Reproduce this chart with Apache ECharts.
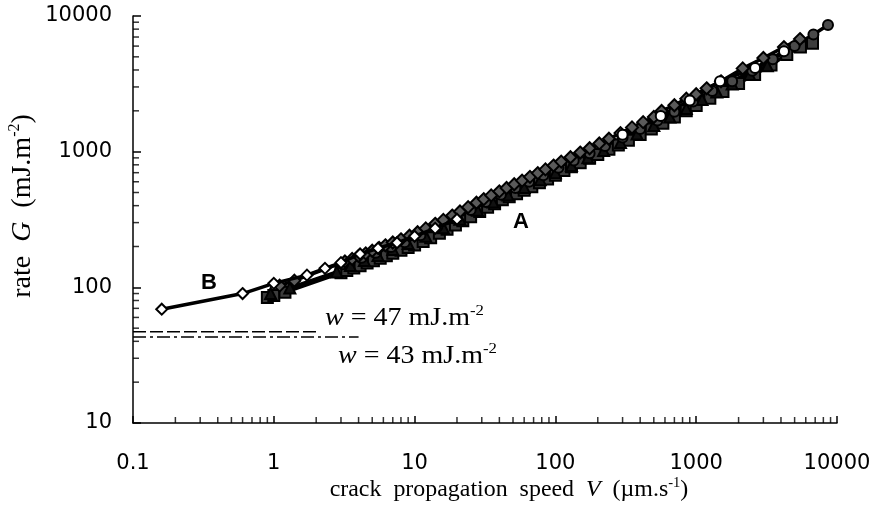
<!DOCTYPE html>
<html>
<head>
<meta charset="utf-8">
<script src="https://cdn.jsdelivr.net/npm/echarts@6/dist/echarts.min.js"></script>
<style>
  html, body { margin: 0; padding: 0; background: #fff; }
  #chart { width: 879px; height: 525px; }
</style>
</head>
<body>
<div id="chart"></div>
<script>
// Tick labels of the two logarithmic axes
const xTickLabels = ['0.1', '1', '10', '100', '1000', '10000'];
const yTickLabels = ['10', '100', '1000', '10000'];

// Intermediate decade ticks (2..9 x 10^n)
const xMinorTicks = [0.2, 0.3, 0.4, 0.5, 0.6, 0.7, 0.8, 0.9,
  2, 3, 4, 5, 6, 7, 8, 9,
  20, 30, 40, 50, 60, 70, 80, 90,
  200, 300, 400, 500, 600, 700, 800, 900,
  2000, 3000, 4000, 5000, 6000, 7000, 8000, 9000];
const yMinorTicks = [20, 30, 40, 50, 60, 70, 80, 90,
  200, 300, 400, 500, 600, 700, 800, 900,
  2000, 3000, 4000, 5000, 6000, 7000, 8000, 9000];

// Curve B: [V (um/s), G (mJ/m2)]
const curveB = [[0.16, 69], [0.6, 90], [1.0, 107], [1.72, 123], [2.31, 138],
  [3.0, 152], [4.1, 176], [5.5, 194], [7.5, 213], [10, 238], [14, 272], [20, 318]];

// Curve A runs, [V, G]
const runSquares = [[0.9, 84], [1.0, 87], [1.2, 92], [3.0, 128], [3.3, 133], [3.7, 139], [4.1, 144],
  [4.6, 151], [5.1, 157], [5.7, 164], [6.3, 171], [7.0, 178], [8.0, 188], [9.0, 197], [10, 205],
  [11.5, 218], [13, 232], [15, 250], [17, 268], [19.5, 288], [22, 310], [25, 332], [29, 362],
  [33, 390], [37, 414], [42, 442], [47, 465], [53, 490], [60, 520], [68, 552], [77, 590],
  [88, 630], [100, 670], [115, 725], [130, 775], [150, 830], [175, 895], [200, 955], [240, 1040],
  [280, 1120], [330, 1215], [400, 1340], [480, 1470], [580, 1620], [700, 1800], [850, 2000],
  [1000, 2190], [1250, 2480], [1550, 2780], [2000, 3180], [2600, 3700], [3400, 4350],
  [4400, 5200], [5500, 5900], [6700, 6310]];
const runDiamonds = [[1.1, 103], [1.4, 112], [3.2, 155], [3.6, 162], [4.0, 170], [4.5, 178],
  [5.0, 186], [5.6, 195], [6.2, 204], [7.0, 214], [8.0, 226], [9.2, 240], [10.5, 255], [12, 272],
  [14, 294], [16, 314], [18.5, 338], [21, 362], [24, 390], [27.5, 420], [31, 447], [35, 476],
  [40, 510], [45, 540], [51, 575], [58, 612], [66, 652], [75, 695], [85, 740], [97, 790],
  [110, 845], [128, 910], [150, 985], [175, 1060], [205, 1150], [240, 1245], [290, 1370],
  [350, 1510], [420, 1650], [500, 1800], [568, 1995], [700, 2200], [851, 2460], [1000, 2650],
  [1186, 2930], [1500, 3300], [2140, 4110], [3000, 4900], [4200, 5900], [5460, 6760]];
const runTriangles = [[0.95, 90], [1.3, 99], [2.8, 130], [3.5, 145], [4.4, 158], [5.5, 172],
  [7, 190], [9, 210], [12, 238], [16, 275], [21, 318], [28, 370], [36, 425], [46, 480], [60, 545],
  [78, 620], [100, 700], [130, 790], [170, 900], [220, 1020], [290, 1170], [380, 1350],
  [500, 1560], [650, 1800], [850, 2080], [1100, 2420], [1400, 2750], [1800, 3150],
  [2400, 3700], [3200, 4300]];
const runDots = [[3.1, 148], [4.2, 165], [5.3, 180], [6.8, 198], [8.5, 215], [11, 242],
  [14.5, 280], [19, 322], [25, 372], [32, 425], [41, 482], [52, 540], [65, 600], [82, 670],
  [105, 760], [135, 860], [175, 975], [225, 1100], [300, 1270], [400, 1470], [530, 1700],
  [700, 1970], [950, 2340], [1300, 2800], [1800, 3300], [2500, 3950], [3500, 4800],
  [5000, 6000], [6800, 7300], [8630, 8570]];
const runCircles = [[300, 1330], [560, 1830], [900, 2380], [1476, 3310], [2620, 4130],
  [4200, 5500]];

// Work of adhesion levels
const levelW47 = [[0.1, 47], [2.0, 47]];
const levelW43 = [[0.1, 43], [4.0, 43]];

const serif = 'Liberation Serif';
const sans = 'Liberation Sans';

function run(data, symbol, size, fill, z) {
  return {
    type: 'line', data: data, symbol: symbol, symbolSize: size, z: z,
    lineStyle: { color: '#000', width: 3.5 },
    itemStyle: { color: fill, borderColor: '#000', borderWidth: 2 }
  };
}

// Short tick strokes standing on the axis lines, one per intermediate value
function tickMarks(points, size, offset) {
  return {
    type: 'scatter', silent: true, clip: false, z: 8, symbol: 'rect',
    symbolSize: size, symbolOffset: offset,
    itemStyle: { color: '#000' },
    data: points
  };
}

const chart = echarts.init(document.getElementById('chart'));
chart.setOption({
  animation: false,
  backgroundColor: '#fff',
  grid: { left: 133, right: 42, top: 16, bottom: 102 },
  xAxis: {
    type: 'log', logBase: 10, min: 0.1, max: 10000,
    axisLine: { lineStyle: { color: '#000', width: 1.5 } },
    axisTick: { inside: true, length: 7, lineStyle: { color: '#000', width: 1.5 } },
    axisLabel: { margin: 30, color: '#000', fontFamily: 'DejaVu Sans', fontSize: 21,
      formatter: (v, i) => xTickLabels[i] },
    splitLine: { show: false }
  },
  yAxis: {
    type: 'log', logBase: 10, min: 10, max: 10000,
    axisLine: { lineStyle: { color: '#000', width: 1.5 } },
    axisTick: { inside: true, length: 8, lineStyle: { color: '#000', width: 1.5 } },
    axisLabel: { margin: 21, color: '#000', fontFamily: 'DejaVu Sans', fontSize: 21,
      formatter: (v, i) => yTickLabels[i] },
    splitLine: { show: false }
  },
  series: [
    tickMarks(xMinorTicks.map(v => [v, 10]), [1.5, 6], [0, -3]),
    tickMarks(yMinorTicks.map(v => [0.1, v]), [6, 1.5], [3, 0]),
    { type: 'line', data: levelW47, symbol: 'none', z: 3,
      lineStyle: { color: '#000', width: 1.5, type: [13, 4] } },
    { type: 'line', data: levelW43, symbol: 'none', z: 3,
      lineStyle: { color: '#000', width: 1.5, type: [13, 4, 3, 4] } },
    run(runSquares, 'rect', 11, '#3c3c3c', 4),
    run(runTriangles, 'triangle', 11, '#111', 4),
    run(runDots, 'circle', 10, '#4a4a4a', 4),
    run(runDiamonds, 'diamond', 12, '#5a5a5a', 4),
    run(runCircles, 'circle', 10, '#fff', 4),
    run(curveB, 'diamond', 11, '#fff', 6)
  ],
  graphic: [
    { type: 'text', x: 509, y: 490, scaleX: 1.04, z: 10,
      style: { text: 'crack  propagation  speed  {it|V}  (\u00b5m.s{sup|-1})',
        fontFamily: serif, fontSize: 23, fill: '#000', align: 'center', verticalAlign: 'middle',
        rich: {
          it: { fontFamily: serif, fontSize: 23, fontStyle: 'italic', fill: '#000', lineHeight: 27 },
          sup: { fontFamily: serif, fontSize: 14, fill: '#000', verticalAlign: 'top', lineHeight: 14 }
        } } },
    { type: 'text', x: 23, y: 206, rotation: Math.PI / 2, z: 10,
      style: { text: 'rate  {it|G}  (mJ.m{sup|-2})',
        fontFamily: serif, fontSize: 28, fill: '#000', align: 'center', verticalAlign: 'middle',
        rich: {
          it: { fontFamily: serif, fontSize: 28, fontStyle: 'italic', fill: '#000', lineHeight: 32 },
          sup: { fontFamily: serif, fontSize: 16, fill: '#000', verticalAlign: 'top', lineHeight: 16 }
        } } },
    { type: 'text', x: 325, y: 318, scaleX: 1.12, z: 10,
      style: { text: '{it|w} = 47 mJ.m{sup|-2}',
        fontFamily: serif, fontSize: 25, fill: '#000', align: 'left', verticalAlign: 'middle',
        rich: {
          it: { fontFamily: serif, fontSize: 25, fontStyle: 'italic', fill: '#000', lineHeight: 28 },
          sup: { fontFamily: serif, fontSize: 15, fill: '#000', verticalAlign: 'top', lineHeight: 15 }
        } } },
    { type: 'text', x: 338, y: 356, scaleX: 1.12, z: 10,
      style: { text: '{it|w} = 43 mJ.m{sup|-2}',
        fontFamily: serif, fontSize: 25, fill: '#000', align: 'left', verticalAlign: 'middle',
        rich: {
          it: { fontFamily: serif, fontSize: 25, fontStyle: 'italic', fill: '#000', lineHeight: 28 },
          sup: { fontFamily: serif, fontSize: 15, fill: '#000', verticalAlign: 'top', lineHeight: 15 }
        } } },
    { type: 'text', x: 209, y: 283, z: 10,
      style: { text: 'B', fontFamily: sans, fontWeight: 'bold', fontSize: 22, fill: '#000',
        align: 'center', verticalAlign: 'middle' } },
    { type: 'text', x: 521, y: 222, z: 10,
      style: { text: 'A', fontFamily: sans, fontWeight: 'bold', fontSize: 22, fill: '#000',
        align: 'center', verticalAlign: 'middle' } }
  ]
});
</script>
</body>
</html>
